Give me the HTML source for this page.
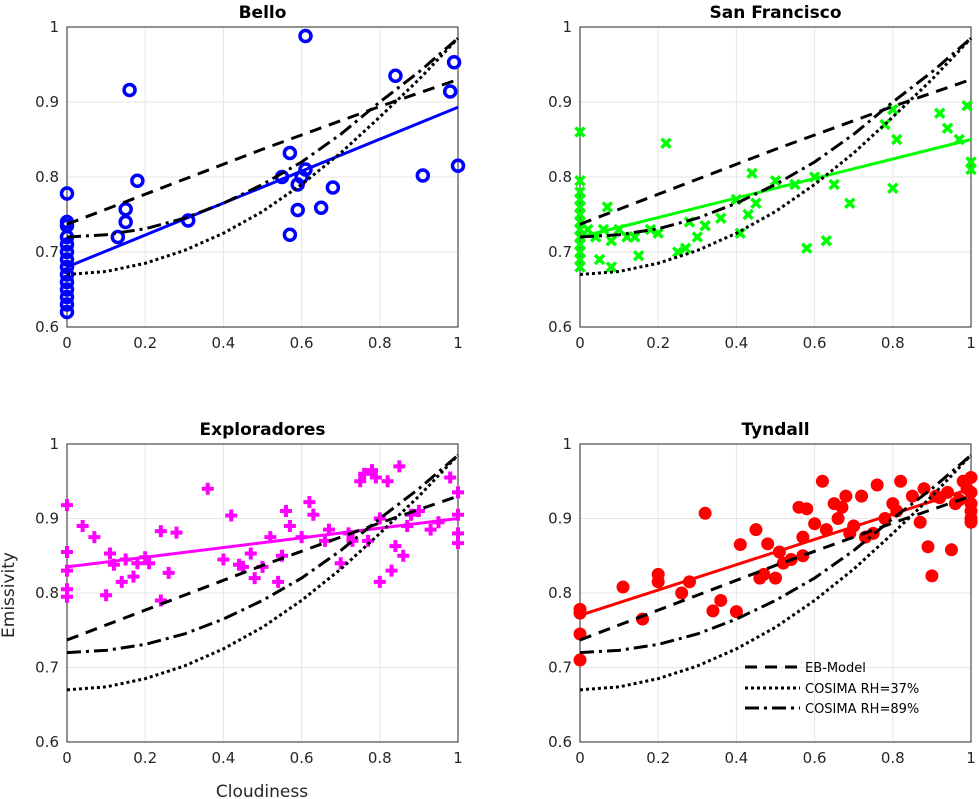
<!DOCTYPE html>
<html><head><meta charset="utf-8"><style>
body{margin:0;background:#fff;font-family:"DejaVu Sans","Liberation Sans",sans-serif}
svg{display:block}
</style></head><body>
<svg id="c" width="979" height="799" xmlns="http://www.w3.org/2000/svg" font-family="DejaVu Sans, Liberation Sans, sans-serif"></svg>
<script>
const xTicks=[0,0.2,0.4,0.6,0.8,1];
const xTickLabels=["0","0.2","0.4","0.6","0.8","1"];
const yTicks=[0.6,0.7,0.8,0.9,1];
const yTickLabels=["0.6","0.7","0.8","0.9","1"];
const curveX=[0,0.1,0.2,0.3,0.4,0.5,0.6,0.7,0.8,0.9,1];
const ebModel=[0.737,0.757,0.777,0.797,0.817,0.837,0.856,0.875,0.894,0.912,0.93];
const cosima37=[0.67,0.674,0.685,0.702,0.725,0.754,0.79,0.832,0.88,0.93,0.985];
const cosima89=[0.72,0.723,0.731,0.745,0.765,0.79,0.82,0.857,0.9,0.94,0.985];
const titles=["Bello","San Francisco","Exploradores","Tyndall"];
const fitStart=[0.68,0.72,0.835,0.77];
const fitEnd=[0.893,0.85,0.9,0.94];
const belloX=[0,0,0,0,0,0,0,0,0,0,0,0,0,0,0.13,0.15,0.15,0.16,0.18,0.31,0.55,0.57,0.57,0.59,0.59,0.6,0.61,0.61,0.65,0.68,0.84,0.91,0.98,0.99,1.0];
const belloY=[0.778,0.74,0.735,0.72,0.71,0.70,0.69,0.68,0.67,0.66,0.65,0.64,0.63,0.62,0.72,0.74,0.757,0.916,0.795,0.742,0.80,0.832,0.723,0.79,0.756,0.80,0.81,0.988,0.759,0.786,0.935,0.802,0.914,0.953,0.815];
const sfX=[0,0,0,0,0,0,0,0,0,0,0,0,0,0.02,0.04,0.05,0.06,0.07,0.08,0.08,0.1,0.12,0.14,0.15,0.18,0.2,0.22,0.25,0.27,0.28,0.3,0.32,0.36,0.4,0.41,0.43,0.44,0.45,0.5,0.55,0.58,0.6,0.63,0.65,0.69,0.78,0.8,0.81,0.8,0.92,0.94,0.97,0.99,1,1];
const sfY=[0.86,0.795,0.78,0.77,0.76,0.75,0.74,0.73,0.72,0.71,0.70,0.69,0.68,0.73,0.72,0.69,0.73,0.76,0.68,0.715,0.73,0.72,0.72,0.695,0.73,0.725,0.845,0.70,0.705,0.74,0.72,0.735,0.745,0.77,0.725,0.75,0.805,0.765,0.795,0.79,0.705,0.80,0.715,0.79,0.765,0.87,0.785,0.85,0.89,0.885,0.865,0.85,0.895,0.82,0.81];
const exX=[0,0,0,0,0,0.04,0.07,0.1,0.11,0.12,0.14,0.15,0.17,0.18,0.2,0.21,0.24,0.24,0.26,0.28,0.36,0.4,0.42,0.44,0.45,0.47,0.48,0.5,0.52,0.54,0.55,0.56,0.57,0.6,0.62,0.63,0.66,0.67,0.7,0.72,0.73,0.75,0.76,0.77,0.78,0.79,0.8,0.8,0.82,0.83,0.84,0.85,0.86,0.87,0.88,0.9,0.93,0.95,0.98,1,1,1,1];
const exY=[0.918,0.855,0.83,0.805,0.795,0.89,0.875,0.797,0.853,0.838,0.815,0.845,0.822,0.84,0.848,0.84,0.79,0.883,0.827,0.881,0.94,0.845,0.904,0.838,0.835,0.853,0.82,0.835,0.875,0.815,0.85,0.91,0.89,0.875,0.922,0.905,0.87,0.885,0.84,0.88,0.87,0.95,0.96,0.87,0.965,0.955,0.815,0.9,0.95,0.83,0.863,0.97,0.85,0.89,0.905,0.91,0.885,0.895,0.955,0.935,0.905,0.88,0.867];
const tyX=[0,0,0,0,0.11,0.16,0.2,0.2,0.26,0.28,0.32,0.34,0.36,0.4,0.41,0.45,0.46,0.47,0.48,0.5,0.51,0.52,0.54,0.56,0.57,0.57,0.58,0.6,0.62,0.63,0.65,0.66,0.67,0.68,0.69,0.7,0.72,0.73,0.75,0.76,0.78,0.8,0.81,0.82,0.85,0.87,0.88,0.89,0.9,0.91,0.92,0.94,0.95,0.96,0.97,0.98,0.99,1,1,1,1,1,1];
const tyY=[0.778,0.773,0.745,0.71,0.808,0.765,0.825,0.815,0.8,0.815,0.907,0.776,0.79,0.775,0.865,0.885,0.82,0.825,0.866,0.82,0.855,0.84,0.845,0.915,0.85,0.875,0.913,0.893,0.95,0.885,0.92,0.9,0.915,0.93,0.88,0.89,0.93,0.875,0.88,0.945,0.9,0.92,0.91,0.95,0.93,0.895,0.94,0.862,0.823,0.93,0.928,0.935,0.858,0.92,0.925,0.95,0.94,0.955,0.935,0.92,0.91,0.9,0.895];
const NS="http://www.w3.org/2000/svg";
const svg=document.getElementById('c');
function mk(tag,attrs,parent){const e=document.createElementNS(NS,tag);for(const k in attrs)e.setAttribute(k,attrs[k]);(parent||svg).appendChild(e);return e;}
const panels=[{x0:67,x1:458,y0:27,y1:327,xs:belloX,ys:belloY,col:"#0000ff",m:"o"},
{x0:580,x1:971,y0:27,y1:327,xs:sfX,ys:sfY,col:"#00ff00",m:"x"},
{x0:67,x1:458,y0:444,y1:742,xs:exX,ys:exY,col:"#ff00ff",m:"+"},
{x0:580,x1:971,y0:444,y1:742,xs:tyX,ys:tyY,col:"#ff0000",m:"d"}];
panels.forEach((p,i)=>{
 const sx=v=>p.x0+v*(p.x1-p.x0);
 const sy=v=>p.y1-(v-0.6)/0.4*(p.y1-p.y0);
 const g=mk('g',{});
 
 
 xTicks.forEach((t,j)=>{
  mk('line',{x1:sx(t),x2:sx(t),y1:p.y0,y2:p.y1,stroke:"#e6e6e6"},g);
  const tl=mk('text',{x:sx(t),y:p.y1+21,"text-anchor":"middle","font-size":15,fill:"#262626"},g);tl.textContent=xTickLabels[j];
  
  
 });
 yTicks.forEach((t,j)=>{
  mk('line',{x1:p.x0,x2:p.x1,y1:sy(t),y2:sy(t),stroke:"#e6e6e6"},g);
  const tl=mk('text',{x:p.x0-8,y:sy(t)+5,"text-anchor":"end","font-size":15,fill:"#262626"},g);tl.textContent=yTickLabels[j];
  
  
 });
 mk('rect',{x:p.x0,y:p.y0,width:p.x1-p.x0,height:p.y1-p.y0,fill:"none",stroke:"#262626","stroke-width":1},g);
 const tt=mk('text',{x:(p.x0+p.x1)/2,y:p.y0-9,"text-anchor":"middle","font-size":17,"font-weight":"bold",fill:"#000"},g);tt.textContent=titles[i];
 
 
 p.xs.forEach((xv,k)=>{
  const cx=sx(xv),cy=sy(p.ys[k]);let m;
  if(p.m==="o")m=mk('circle',{cx,cy,r:5.5,fill:"none",stroke:p.col,"stroke-width":3.5},g);
  else if(p.m==="d")m=mk('circle',{cx,cy,r:6.5,fill:p.col},g);
  else if(p.m==="x")m=mk('path',{d:`M${cx-4.5},${cy-4.5}L${cx+4.5},${cy+4.5}M${cx-4.5},${cy+4.5}L${cx+4.5},${cy-4.5}`,stroke:p.col,"stroke-width":3.5},g);
  else m=mk('path',{d:`M${cx-6},${cy}L${cx+6},${cy}M${cx},${cy-6}L${cx},${cy+6}`,stroke:p.col,"stroke-width":4},g);
  
  
 });
 const fl=mk('line',{x1:sx(0),y1:sy(fitStart[i]),x2:sx(1),y2:sy(fitEnd[i]),stroke:p.col,"stroke-width":3},g);
 
 
 const curves=[[ebModel,"12,8","eb-model-curve"],[cosima37,"3,3","cosima-rh37-curve"],[cosima89,"14,5,3,5","cosima-rh89-curve"]];
 curves.forEach(c=>{
  const d=curveX.map((xv,k)=>(k?"L":"M")+sx(xv)+","+sy(c[0][k])).join("");
  const pe=mk('path',{d,fill:"none",stroke:"#000","stroke-width":3,"stroke-dasharray":c[1]},g);
  
  
 });
});
const leg=mk('g',{});


const legItems=[["EB-Model","12,8",667],["COSIMA RH=37%","3,3",688],["COSIMA RH=89%","14,5,3,5",708]];
legItems.forEach(l=>{
 mk('line',{x1:745,x2:800,y1:l[2],y2:l[2],stroke:"#000","stroke-width":3,"stroke-dasharray":l[1]},leg);
 const t=mk('text',{x:805,y:l[2]+5,"font-size":13,fill:"#000"},leg);t.textContent=l[0];
 
 
});
const yl=mk('text',{x:0,y:0,transform:"translate(14,595) rotate(-90)","text-anchor":"middle","font-size":17,fill:"#262626"});yl.textContent="Emissivity";


const xl=mk('text',{x:262,y:797,"text-anchor":"middle","font-size":17,fill:"#262626"});xl.textContent="Cloudiness";


</script>
</body></html>
